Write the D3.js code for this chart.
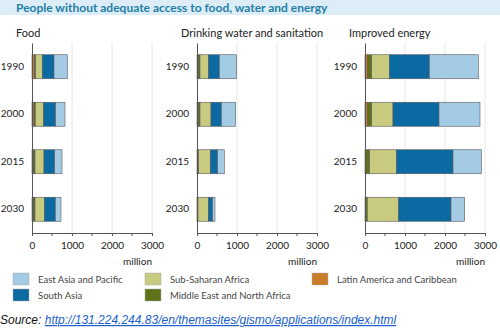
<!DOCTYPE html>
<html>
<head>
<meta charset="utf-8">
<script src="https://cdn.jsdelivr.net/npm/d3@7"></script>
<style>
  body { margin: 0; background: #fff; }
  svg { display: block; }
</style>
</head>
<body>
<script>
var width = 500, height = 333

// data, million people
var years = ["1990", "2000", "2015", "2030"]
var regions = ["Latin America and Caribbean", "Middle East and North Africa", "Sub-Saharan Africa", "South Asia", "East Asia and Pacific"]
var colors = ["#c97d2b", "#5f7119", "#c8ca80", "#0a6aa1", "#a4cbe4"]

var foodLAC  = [58, 50, 33, 33]
var foodMENA = [34, 33, 42, 42]
var foodSSA  = [166, 207, 225, 233]
var foodSA   = [292, 300, 267, 275]
var foodEAP  = [333, 235, 183, 142]

var waterLAC  = [42, 42, 0, 0]
var waterMENA = [33, 33, 42, 25]
var waterSSA  = [217, 275, 291, 258]
var waterSA   = [266, 258, 184, 109]
var waterEAP  = [434, 359, 166, 58]

var energyLAC  = [58, 58, 0, 0]
var energyMENA = [109, 109, 117, 58]
var energySSA  = [441, 533, 666, 784]
var energySA   = [1000, 1150, 1417, 1308]
var energyEAP  = [1225, 1025, 708, 342]

var panels = [
  {title: "Food", x: 32, series: [foodLAC, foodMENA, foodSSA, foodSA, foodEAP]},
  {title: "Drinking water and sanitation", x: 197, series: [waterLAC, waterMENA, waterSSA, waterSA, waterEAP]},
  {title: "Improved energy", x: 365, series: [energyLAC, energyMENA, energySSA, energySA, energyEAP]}
]

var xTicks = [0, 1000, 2000, 3000]
var xMinor = [500, 1500, 2500]

var svg = d3.select("body").append("svg")
  .attr("width", width)
  .attr("height", height)

// title band
svg.append("rect")
  .attr("x", 0).attr("y", 0)
  .attr("width", width).attr("height", 15)
  .attr("fill", "#dcedf7")
svg.append("text")
  .attr("x", 16).attr("y", 11.5)
  .attr("font-family", "Lato, sans-serif")
  .attr("font-weight", "bold")
  .attr("font-size", "12px")
  .attr("fill", "#1f7ea6")
  .text("People without adequate access to food, water and energy")

var plotTop = 43, plotBottom = 233, barH = 24

var y = d3.scaleBand().domain(years).range([plotTop, plotBottom])

panels.forEach(function(p) {
  var g = svg.append("g").attr("transform", "translate(" + p.x + ",0)")
  var x = d3.scaleLinear().domain([0, 3000]).range([0, 120])

  svg.append("text")
    .attr("x", p.x - 16).attr("y", 37)
    .attr("font-family", "Lato, sans-serif")
    .attr("font-size", "11px")
    .attr("fill", "#222")
    .text(p.title)

  // gridlines
  g.selectAll(".grid")
    .data(xTicks.slice(1))
    .enter().append("line")
    .attr("x1", function(d) { return x(d) }).attr("x2", function(d) { return x(d) })
    .attr("y1", plotTop).attr("y2", plotBottom)
    .attr("stroke", "#e6e6e6").attr("stroke-width", 1)

  // stacked bars
  years.forEach(function(yr, i) {
    var acc = 0
    p.series.forEach(function(s, k) {
      var v = s[i]
      if (v > 0) {
        g.append("rect")
          .attr("x", x(acc))
          .attr("y", y(yr) + (y.bandwidth() - barH) / 2)
          .attr("width", x(acc + v) - x(acc))
          .attr("height", barH)
          .attr("fill", colors[k])
          .attr("stroke", "#5a5a5a")
          .attr("stroke-width", 0.6)
      }
      acc += v
    })
  })

  // y axis
  var ya = g.append("g").call(d3.axisLeft(y).tickSize(0).tickPadding(8))
  ya.select(".domain").attr("stroke", "#555")
  ya.selectAll("text")
    .attr("font-family", "Lato, sans-serif")
    .attr("font-size", "10px")
    .attr("fill", "#222")

  // x axis
  var xa = g.append("g").attr("transform", "translate(0," + plotBottom + ")")
    .call(d3.axisBottom(x).tickValues(xTicks).tickFormat(d3.format("d"))
      .tickSize(3).tickSizeOuter(0).tickPadding(6))
  xa.select(".domain").attr("stroke", "#555")
  xa.selectAll(".tick line").attr("stroke", "#555")
  xa.selectAll("text")
    .attr("font-family", "Lato, sans-serif")
    .attr("font-size", "10px")
    .attr("fill", "#222")
  xa.selectAll(".minor")
    .data(xMinor)
    .enter().append("line")
    .attr("x1", function(d) { return x(d) }).attr("x2", function(d) { return x(d) })
    .attr("y1", 0).attr("y2", 3)
    .attr("stroke", "#555")

  svg.append("text")
    .attr("x", p.x + 120).attr("y", 265)
    .attr("text-anchor", "end")
    .attr("font-family", "Lato, sans-serif")
    .attr("font-size", "10px")
    .attr("fill", "#222")
    .text("million")
})

// legend
var legendItems = [
  {name: "East Asia and Pacific", color: colors[4], x: 13, y: 273},
  {name: "South Asia", color: colors[3], x: 13, y: 289},
  {name: "Sub-Saharan Africa", color: colors[2], x: 145, y: 273},
  {name: "Middle East and North Africa", color: colors[1], x: 145, y: 289},
  {name: "Latin America and Caribbean", color: colors[0], x: 312, y: 273}
]
var lg = svg.selectAll(".legend")
  .data(legendItems)
  .enter().append("g")
  .attr("transform", function(d) { return "translate(" + d.x + "," + d.y + ")" })
lg.append("rect")
  .attr("width", 16).attr("height", 12)
  .attr("fill", function(d) { return d.color })
  .attr("stroke", "#aaa").attr("stroke-width", 0.5)
lg.append("text")
  .attr("x", 25).attr("y", 10)
  .attr("font-family", "Lato, sans-serif")
  .attr("font-size", "9.5px")
  .attr("fill", "#444")
  .text(function(d) { return d.name })

// source
var src = svg.append("text")
  .attr("x", 0).attr("y", 324)
  .attr("font-family", "Liberation Sans, Arial, sans-serif")
  .attr("font-style", "italic")
  .attr("font-size", "12px")
src.append("tspan").attr("fill", "#111").text("Source: ")
src.append("tspan").attr("fill", "#1a5fcc")
  .attr("text-decoration", "underline")
  .text("http://131.224.244.83/en/themasites/gismo/applications/index.html")
</script>
</body>
</html>
